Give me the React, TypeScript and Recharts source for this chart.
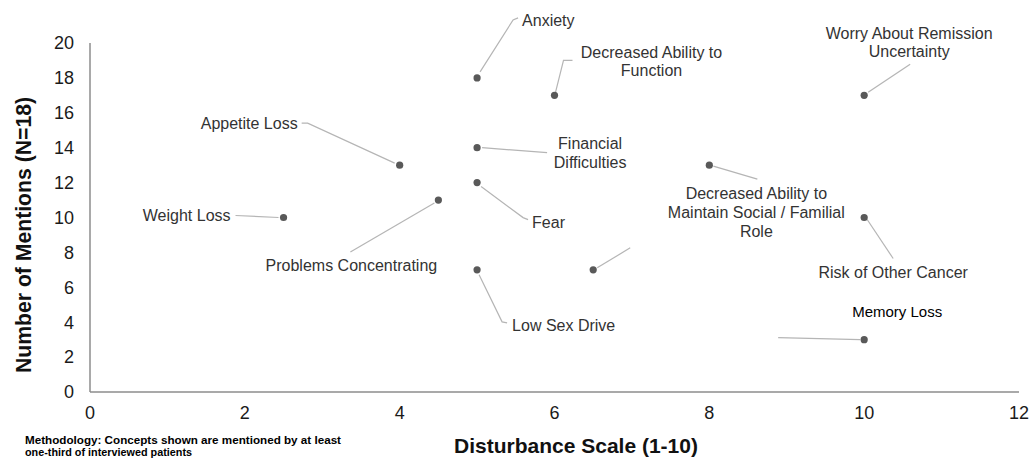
import { Customized, Scatter, ScatterChart, XAxis, YAxis } from "recharts";

// concept names, split the way they wrap on the chart
const conceptLines: string[][] = [
  ["Weight Loss"],
  ["Appetite Loss"],
  ["Problems Concentrating"],
  ["Anxiety"],
  ["Financial", "Difficulties"],
  ["Fear"],
  ["Low Sex Drive"],
  ["Decreased Ability to", "Function"],
  [],
  ["Decreased Ability to", "Maintain Social / Familial", "Role"],
  ["Worry About Remission", "Uncertainty"],
  ["Risk of Other Cancer"],
  ["Memory Loss"],
];
const disturbance = [2.5, 4, 4.5, 5, 5, 5, 5, 6, 6.5, 8, 10, 10, 10];
const mentions = [10, 13, 11, 18, 14, 12, 7, 17, 7, 13, 17, 10, 3];

const xTicks = [0, 2, 4, 6, 8, 10, 12];
const yTicks = [0, 2, 4, 6, 8, 10, 12, 14, 16, 18, 20];

const FONT = "'Liberation Sans', Arial, sans-serif";

type LabelLayout = {
  anchor: "start" | "middle" | "end";
  dx: number;
  dy: number[];
  leader: [number, number][];
  size?: number;
  color?: string;
};

// label placement relative to the dot (pixels)
const layout: LabelLayout[] = [
  { anchor: "end", dx: -53, dy: [3], leader: [[-5, 0], [-48, -2]] },
  { anchor: "end", dx: -102, dy: [-36], leader: [[-5, -2], [-92, -42], [-98, -42]] },
  { anchor: "middle", dx: -87, dy: [71], leader: [[-4, 3], [-88, 52]] },
  { anchor: "start", dx: 45, dy: [-52], leader: [[3, -6], [36, -58], [41, -60]] },
  { anchor: "middle", dx: 113, dy: [1, 20], leader: [[5, 0], [70, 5]] },
  { anchor: "start", dx: 55, dy: [45], leader: [[4, 4], [46, 35], [51, 37]] },
  { anchor: "start", dx: 35, dy: [61], leader: [[2, 5], [25, 52], [30, 53]] },
  { anchor: "middle", dx: 97, dy: [-37, -19], leader: [[1, -3], [9, -35], [18, -35]] },
  { anchor: "start", dx: 0, dy: [], leader: [[4, -2], [37, -22]] },
  { anchor: "middle", dx: 47, dy: [34, 53, 72], leader: [[4, 1], [48, 14]] },
  { anchor: "middle", dx: 45, dy: [-56, -38], leader: [[4, -3], [46, -31]] },
  { anchor: "middle", dx: 29, dy: [60], leader: [[3, 2], [29, 41]] },
  { anchor: "middle", dx: 33, dy: [-23], leader: [[-4, 0], [-86, -2]], size: 15, color: "#000" },
];

const data = disturbance.map((x, i) => ({ x, y: mentions[i], idx: i }));

function ConceptMark(props: any) {
  const { cx, cy, payload } = props;
  const lay = layout[payload.idx];
  const pts = lay.leader.map(([dx, dy]) => `${cx + dx},${cy + dy}`).join(" ");
  return (
    <g>
      <polyline points={pts} fill="none" stroke="#b5b5b5" strokeWidth={1.2} />
      <circle cx={cx} cy={cy} r={3.6} fill="#595959" />
      {conceptLines[payload.idx].map((t, i) => (
        <text
          key={i}
          x={cx + lay.dx}
          y={cy + lay.dy[i]}
          textAnchor={lay.anchor}
          fontSize={lay.size ?? 16}
          fill={lay.color ?? "#333"}
          fontFamily={FONT}
        >
          {t}
        </text>
      ))}
    </g>
  );
}

function Titles() {
  return (
    <g fontFamily={FONT}>
      <text
        transform="translate(31,235) rotate(-90)"
        textAnchor="middle"
        fontSize={22.5}
        fontWeight="bold"
        fill="#111"
        textLength={276}
        lengthAdjust="spacingAndGlyphs"
      >
        Number of Mentions (N=18)
      </text>
      <text x={576} y={453} textAnchor="middle" fontSize={21} fontWeight="bold" fill="#111">
        Disturbance Scale (1-10)
      </text>
      <text x={25} y={444} fontSize={11} fontWeight="bold" fill="#000" textLength={316} lengthAdjust="spacingAndGlyphs">
        Methodology: Concepts shown are mentioned by at least
      </text>
      <text x={25} y={456} fontSize={11} fontWeight="bold" fill="#000" textLength={167} lengthAdjust="spacingAndGlyphs">
        one-third of interviewed patients
      </text>
    </g>
  );
}

export default function App() {
  return (
    <div
      style={{
        position: "absolute",
        left: 0,
        top: 0,
        width: 1032,
        height: 459,
        background: "#fff",
        fontFamily: FONT,
      }}
    >
      <ScatterChart
        width={1032}
        height={459}
        margin={{ top: 43, right: 13, left: 0, bottom: 0 }}
      >
        <XAxis
          type="number"
          dataKey="x"
          domain={[0, 12]}
          ticks={xTicks}
          height={67}
          axisLine={{ stroke: "#8c8c8c", strokeWidth: 1.5 }}
          tickLine={false}
          tickSize={0}
          tickMargin={14}
          tick={{ fontSize: 18, fill: "#1a1a1a", fontFamily: FONT }}
        />
        <YAxis
          type="number"
          dataKey="y"
          domain={[0, 20]}
          ticks={yTicks}
          width={90}
          axisLine={{ stroke: "#8c8c8c", strokeWidth: 1.5 }}
          tickLine={false}
          tickSize={0}
          tickMargin={16}
          tick={{ fontSize: 18, fill: "#1a1a1a", fontFamily: FONT }}
        />
        <Scatter data={data} shape={ConceptMark} isAnimationActive={false} />
        <Customized component={Titles} />
      </ScatterChart>
    </div>
  );
}
